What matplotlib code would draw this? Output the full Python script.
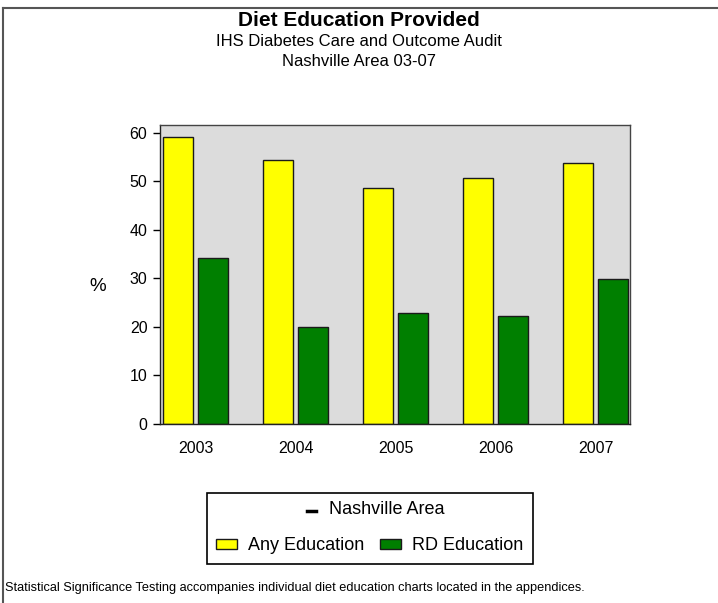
import matplotlib
matplotlib.use("Agg")
import matplotlib.pyplot as plt
from matplotlib.patches import Rectangle
from matplotlib.lines import Line2D
import numpy as np

plt.rcParams['font.family'] = ['Liberation Sans', 'DejaVu Sans']

years = ["2003", "2004", "2005", "2006", "2007"]
any_education = [59.1, 54.3, 48.7, 50.6, 53.7]
rd_education = [34.3, 20.0, 22.8, 22.3, 29.8]
y_ticks = [0, 10, 20, 30, 40, 50, 60]

W, H = 718, 603
fig = plt.figure(figsize=(W / 100, H / 100), dpi=100)
fig.patch.set_facecolor("white")

def fx(px):
    return px / W

def fy(py):
    return 1 - py / H

ax = fig.add_axes([fx(160), fy(424), fx(630) - fx(160), fy(125) - fy(424)])
ax.set_facecolor("#dcdcdc")

x = np.arange(len(years))
bw = 0.30
off = 0.175
b1 = ax.bar(x - off, any_education, bw, color="#ffff00", edgecolor="#1a1a1a",
            linewidth=1.0, label="Any Education")
b2 = ax.bar(x + off, rd_education, bw, color="#007f00", edgecolor="#1a1a1a",
            linewidth=1.0, label="RD Education")

ax.set_xlim(-0.358, 4.345)
ax.set_ylim(0, 61.6)
ax.set_yticks(y_ticks)
ax.set_xticks(x)
ax.set_xticklabels(years)
ax.tick_params(axis="x", length=0, pad=12, labelsize=11.5)
ax.tick_params(axis="y", length=5, width=1, pad=4, labelsize=11.5, direction="out")
for s in ["top", "right"]:
    ax.spines[s].set_color("#444444")
for s in ["left", "bottom"]:
    ax.spines[s].set_color("#222222")
for s in ax.spines.values():
    s.set_linewidth(1.0)

fig.text(fx(98), fy(287), "%", ha="center", va="center", fontsize=13.5)

# titles
fig.text(fx(359), fy(20), "Diet Education Provided", ha="center", va="center",
         fontsize=15, fontweight="bold")
fig.text(fx(359), fy(41), "IHS Diabetes Care and Outcome Audit", ha="center",
         va="center", fontsize=12)
fig.text(fx(359), fy(62), "Nashville Area 03-07", ha="center", va="center",
         fontsize=12)

# outer frame (top and left edges)
fig.add_artist(Line2D([fx(3), fx(718)], [fy(8), fy(8)], color="#555555", lw=1.5))
fig.add_artist(Line2D([fx(3), fx(3)], [fy(8), fy(603)], color="#555555", lw=1.5))

# legend box
fig.add_artist(Rectangle((fx(207), fy(564)), fx(533) - fx(207), fy(493) - fy(564),
                         transform=fig.transFigure, fill=False, ec="black", lw=1.2))
fig.add_artist(Line2D([fx(307), fx(316)], [fy(511), fy(511)], color="black", lw=2.5))
fig.text(fx(329), fy(510), "Nashville Area", ha="left", va="center", fontsize=13)
leg = fig.legend(handles=[b1, b2], ncol=2, frameon=False, fontsize=13,
                 loc="center left", bbox_to_anchor=(fx(216), fy(546)),
                 handlelength=1.15, handleheight=0.5, handletextpad=0.6,
                 columnspacing=0.9, borderaxespad=0, borderpad=0)

fig.text(fx(5), fy(588), "Statistical Significance Testing accompanies individual diet "
         "education charts located in the appendices.", ha="left", va="center",
         fontsize=9.2)

fig.savefig("out.png", dpi=100)
